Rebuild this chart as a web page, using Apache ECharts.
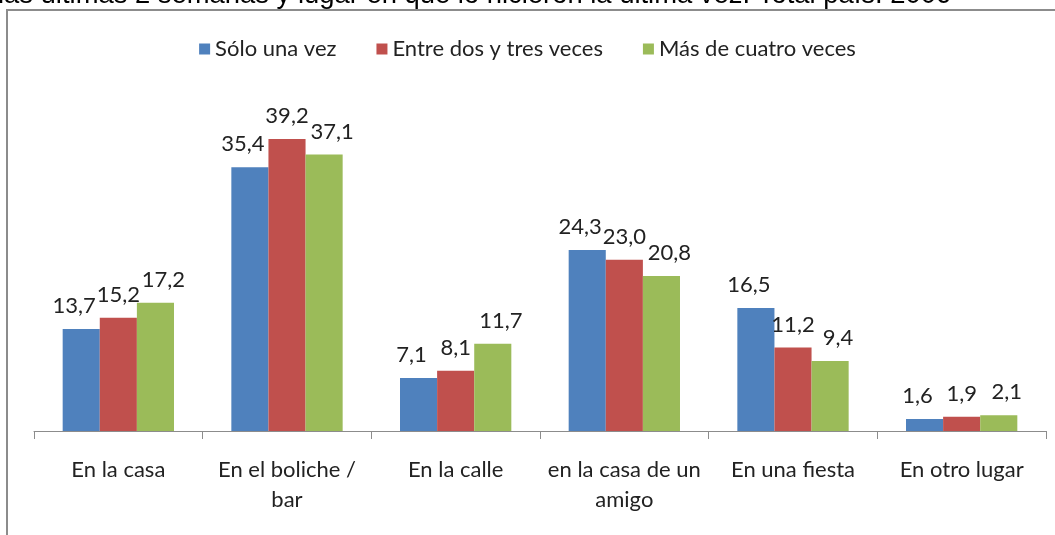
<!DOCTYPE html>
<html>
<head>
<meta charset="utf-8">
<script src="https://cdn.jsdelivr.net/npm/echarts@6/dist/echarts.min.js"></script>
<style>
  html, body { margin: 0; padding: 0; background: #fff; }
  #chart { width: 1055px; height: 535px; }
</style>
</head>
<body>
<div id="chart"></div>
<script>
  // categorias y series
  let categories = ['En la casa', 'En el boliche /\nbar', 'En la calle', 'en la casa de un\namigo', 'En una fiesta', 'En otro lugar']
  let seriesNames = ['Sólo una vez', 'Entre dos y tres veces', 'Más de cuatro veces']
  let soloUnaVez = [13.7, 35.4, 7.1, 24.3, 16.5, 1.6]
  let dosTresVeces = [15.2, 39.2, 8.1, 23.0, 11.2, 1.9]
  let cuatroVeces = [17.2, 37.1, 11.7, 20.8, 9.4, 2.1]
  let colors = ['#4F81BD', '#C0504D', '#9BBB59']
  let titleText = 'las últimas 2 semanas y lugar en que lo hicieron la última vez. Total país. 2006'

  let font = 'Lato, "Open Sans", sans-serif'
  let values = [soloUnaVez, dosTresVeces, cuatroVeces]
  // corrimiento horizontal de las etiquetas (como en el original)
  let labelShift = [-7, 0, 8]

  let series = values.map((data, i) => {
    return {
      type: 'bar',
      name: seriesNames[i],
      data: data,
      barGap: '0%',
      barCategoryGap: '34%',
      itemStyle: { color: colors[i] },
      label: {
        show: true,
        position: 'top',
        distance: 12,
        offset: [labelShift[i], 0],
        color: '#222',
        fontFamily: font,
        fontSize: 22,
        formatter: p => p.value.toFixed(1).replace('.', ',')
      }
    }
  })

  echarts.init(document.getElementById('chart')).setOption({
    animation: false,
    color: colors,
    graphic: [
      {
        type: 'text',
        left: -2,
        top: -18,
        style: {
          text: titleText,
          fill: '#000',
          font: '27.4px Arial, "Liberation Sans", sans-serif'
        }
      },
      {
        type: 'polyline',
        shape: { points: [[7, 535], [7, 10], [1055, 10]] },
        style: { stroke: '#8c8c8c', lineWidth: 2, fill: null }
      }
    ],
    legend: {
      top: 33,
      left: 'center',
      icon: 'rect',
      itemWidth: 11,
      itemHeight: 11,
      itemGap: 40,
      textStyle: { fontFamily: font, fontSize: 22, color: '#222' },
      data: seriesNames
    },
    grid: {
      left: 34,
      right: 9,
      top: 133,
      bottom: 104,
      containLabel: false
    },
    xAxis: {
      type: 'category',
      data: categories,
      axisLine: { show: true, lineStyle: { color: '#8c8c8c', width: 1 } },
      axisTick: { show: true, length: 8, lineStyle: { color: '#8c8c8c' } },
      axisLabel: {
        interval: 0,
        margin: 24,
        color: '#222',
        fontFamily: font,
        fontSize: 22,
        lineHeight: 30
      }
    },
    yAxis: {
      type: 'value',
      min: 0,
      max: 40,
      show: false,
      splitLine: { show: false }
    },
    series: series
  })
</script>
</body>
</html>
